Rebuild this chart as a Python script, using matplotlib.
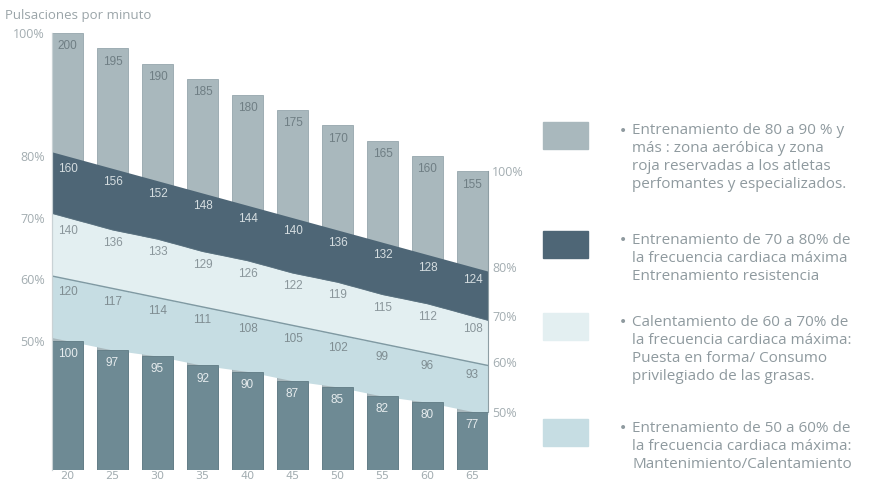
import matplotlib.pyplot as plt
import numpy as np

# Datos
edades = [20, 25, 30, 35, 40, 45, 50, 55, 60, 65]
fc_max = [200, 195, 190, 185, 180, 175, 170, 165, 160, 155]   # 100%
fc_80 = [160, 156, 152, 148, 144, 140, 136, 132, 128, 124]
fc_70 = [140, 136, 133, 129, 126, 122, 119, 115, 112, 108]
fc_60 = [120, 117, 114, 111, 108, 105, 102, 99, 96, 93]
fc_50 = [100, 97, 95, 92, 90, 87, 85, 82, 80, 77]

pct_labels = ["100%", "80%", "70%", "60%", "50%"]

leyenda = [
    ["Entrenamiento de 80 a 90 % y", "más : zona aeróbica y zona",
     "roja reservadas a los atletas", "perfomantes y especializados."],
    ["Entrenamiento de 70 a 80% de", "la frecuencia cardiaca máxima",
     "Entrenamiento resistencia"],
    ["Calentamiento de 60 a 70% de", "la frecuencia cardiaca máxima:",
     "Puesta en forma/ Consumo", "privilegiado de las grasas."],
    ["Entrenamiento de 50 a 60% de", "la frecuencia cardiaca máxima:",
     "Mantenimiento/Calentamiento"],
]

c_top = "#a9b8bd"
c_80 = "#4e6676"
c_70 = "#e3eff1"
c_60 = "#c6dde3"
c_50 = "#6e8a94"
c_txt = "#8f9a9f"

W, H = 871, 483
fig = plt.figure(figsize=(W / 100, H / 100), dpi=100)
ax = fig.add_axes([52 / W, (H - 470) / H, 436 / W, 437 / H])

x = np.arange(len(edades))
w = 0.69
ymin = 58

# barras grises (100%)
ax.bar(x, np.array(fc_max) - ymin, w, bottom=ymin, color=c_top,
       edgecolor="#95a6ac", linewidth=0.6, zorder=1)

# bandas continuas, prolongadas hasta el borde de las barras extremas
xs = np.concatenate([[x[0] - w / 2], x, [x[-1] + w / 2]])


def ext(v):
    v = np.asarray(v, dtype=float)
    a = v[0] - (v[1] - v[0]) * w / 2
    b = v[-1] + (v[-1] - v[-2]) * w / 2
    return np.concatenate([[a], v, [b]])


ax.fill_between(xs, ext(fc_70), ext(fc_80), color=c_80, lw=0, zorder=2)
ax.fill_between(xs, ext(fc_60), ext(fc_70), color=c_70, lw=0, zorder=2)
ax.fill_between(xs, ext(fc_50), ext(fc_60), color=c_60, lw=0, zorder=2)
ax.plot(xs, ext(fc_60), color="#7f99a2", lw=1, zorder=3)
ax.plot(xs, ext(fc_70), color="#5c7482", lw=0.6, zorder=3)

# barras inferiores (50%)
ax.bar(x, np.array(fc_50) - ymin, w, bottom=ymin, color=c_50,
       edgecolor="#5f7a84", linewidth=0.6, zorder=4)

# etiquetas de valores
series = [(fc_max, "#6f7e84"), (fc_80, "#d5dde0"), (fc_70, "#8a969b"),
          (fc_60, "#7f8d92"), (fc_50, "#e6ecee")]
for vals, col in series:
    for xi, v in zip(x, vals):
        ax.annotate(str(v), (xi, v), xytext=(0, -9.5), textcoords="offset points",
                    ha="center", va="center", fontsize=8.5, color=col,
                    family="Liberation Sans", zorder=5)

ax.set_xlim(x[0] - w / 2, x[-1] + w / 2)
ax.set_ylim(ymin, 200)

ax.set_yticks([fc_max[0], fc_80[0], fc_70[0], fc_60[0], fc_50[0]])
ax.set_yticklabels(pct_labels, family="Open Sans")
ax.set_xticks(x)
ax.set_xticklabels([str(e) for e in edades])
ax.tick_params(axis="both", length=0, labelsize=9, labelcolor="#a3adb1")
ax.tick_params(axis="x", pad=1, labelsize=8)
ax.tick_params(axis="y", pad=5)

ax2 = ax.twinx()
ax2.set_ylim(ymin, 200)
ax2.set_yticks([fc_max[-1], fc_80[-1], fc_70[-1], fc_60[-1], fc_50[-1]])
ax2.set_yticklabels(pct_labels, family="Open Sans")
ax2.tick_params(axis="y", length=0, labelsize=9, labelcolor="#a3adb1", pad=3)

for a in (ax, ax2):
    for s in ["top", "bottom"]:
        a.spines[s].set_visible(False)
    a.spines["left"].set_color("#c9d2d5")
    a.spines["right"].set_color("#8e9ea4")
    a.spines["left"].set_linewidth(0.8)
    a.spines["right"].set_linewidth(0.8)
ax2.spines["right"].set_bounds(fc_50[-1], fc_max[-1])
ax.spines["right"].set_visible(False)

fig.text(5 / W, 1 - 16 / H, "Pulsaciones por minuto", fontsize=9.5,
         color="#9aa4a8", family="Open Sans", va="center")

# leyenda a la derecha
primeras = [131, 240, 322, 428]
colores = [c_top, c_80, c_70, c_60]
for lineas, y0, col in zip(leyenda, primeras, colores):
    fig.patches.append(plt.Rectangle((543 / W, 1 - (y0 + 18) / H), 45 / W, 27 / H,
                                     transform=fig.transFigure, color=col))
    fig.text(623 / W, 1 - y0 / H, "•", fontsize=10, color=c_txt, va="center",
             ha="center")
    for i, t in enumerate(lineas):
        fig.text(632 / W, 1 - (y0 + 18 * i) / H, t, fontsize=11, color=c_txt,
                 family="Open Sans", va="center")

fig.savefig("out.png", dpi=100)
